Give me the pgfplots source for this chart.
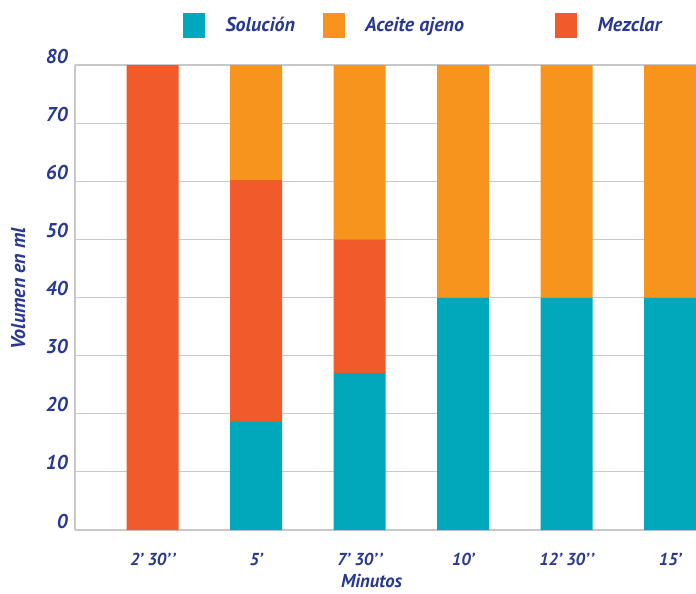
\documentclass[border=0pt]{standalone}
\usepackage{fontspec}
\setmainfont{PT Sans}
\usepackage{pgfplots}
\pgfplotsset{compat=1.18}
\definecolor{sol}{RGB}{0,168,188}
\definecolor{ace}{RGB}{247,148,29}
\definecolor{mez}{RGB}{241,90,43}
\definecolor{tb}{RGB}{41,57,143}
\definecolor{gl}{RGB}{200,200,200}
\begin{document}
\begin{tikzpicture}[x=1pt,y=1pt]
\begin{axis}[
  at={(0,0)}, anchor=south west,
  scale only axis, width=465.75pt, height=348.75pt,
  ybar stacked, bar width=39pt,
  xmin=-0.75, xmax=5.25, ymin=0, ymax=80,
  xtick={0,1,2,3,4,5},
  xticklabels={2’ 30’\kern1pt’,5’,7’ 30’\kern1pt’,10’,12’ 30’\kern1pt’,15’},
  ytick={0,10,...,80},
  axis x line=bottom, axis y line=left,
  x axis line style={-, draw=gl, line width=1.5pt},
  y axis line style={-, draw=gl, line width=0.8pt},
  major tick length=0pt, tick style={draw=none},
  ymajorgrids, grid style={gl, line width=0.9pt},
  /pgf/number format/assume math mode=true,
  yticklabel style={font=\fontsize{15}{18}\selectfont\bfseries\itshape, text=tb, anchor=base east, inner sep=0pt, xshift=-5.25pt, yshift=1.5pt},
  xticklabel style={font=\fontsize{13}{15}\selectfont\bfseries\itshape, text=tb, anchor=base, inner sep=0pt, yshift=-26.25pt},
  xlabel={Minutos},
  xlabel style={font=\fontsize{14}{17}\selectfont\bfseries\itshape, text=tb, at={(axis description cs:0.4775,-0.124)}, anchor=base, inner sep=0pt},
  ylabel={Volumen en ml},
  ylabel style={font=\fontsize{15}{18}\selectfont\bfseries\itshape, text=tb, at={(axis description cs:-0.0805,0.519)}, anchor=base, inner sep=0pt},
  legend style={at={(axis description cs:0,1)}, anchor=north west, xshift=81pt, yshift=39pt, draw=none, fill=none, inner sep=0pt, outer sep=0pt,
    nodes={inner sep=0pt, font=\fontsize{15}{18}\selectfont\bfseries\itshape, text=tb},
    /tikz/every odd column/.append style={column sep=15.75pt},
    /tikz/every even column/.append style={column sep=0pt}},
  legend columns=3, legend cell align=left,
]
\addlegendimage{legend image code/.code={\fill[sol] (0pt,-9pt) rectangle (15.75pt,9pt);}}
\addlegendentry{\makebox[72.75pt][l]{Solución}}
\addlegendimage{legend image code/.code={\fill[ace] (0pt,-9pt) rectangle (15.75pt,9pt);}}
\addlegendentry{\makebox[142.5pt][l]{Aceite ajeno}}
\addlegendimage{legend image code/.code={\fill[mez] (0pt,-9pt) rectangle (15.75pt,9pt);}}
\addlegendentry{Mezclar}
\addplot+[fill=sol, draw=none, forget plot] coordinates {(0,0) (1,18.6) (2,27) (3,40) (4,40) (5,40)};
\addplot+[fill=mez, draw=none, forget plot] coordinates {(0,80) (1,41.6) (2,23) (3,0) (4,0) (5,0)};
\addplot+[fill=ace, draw=none, forget plot] coordinates {(0,0) (1,19.8) (2,30) (3,40) (4,40) (5,40)};
\end{axis}
\pgfresetboundingbox
\path[use as bounding box] (-56.25pt,-47.25pt) rectangle (465.75pt,397.5pt);
\end{tikzpicture}
\end{document}
